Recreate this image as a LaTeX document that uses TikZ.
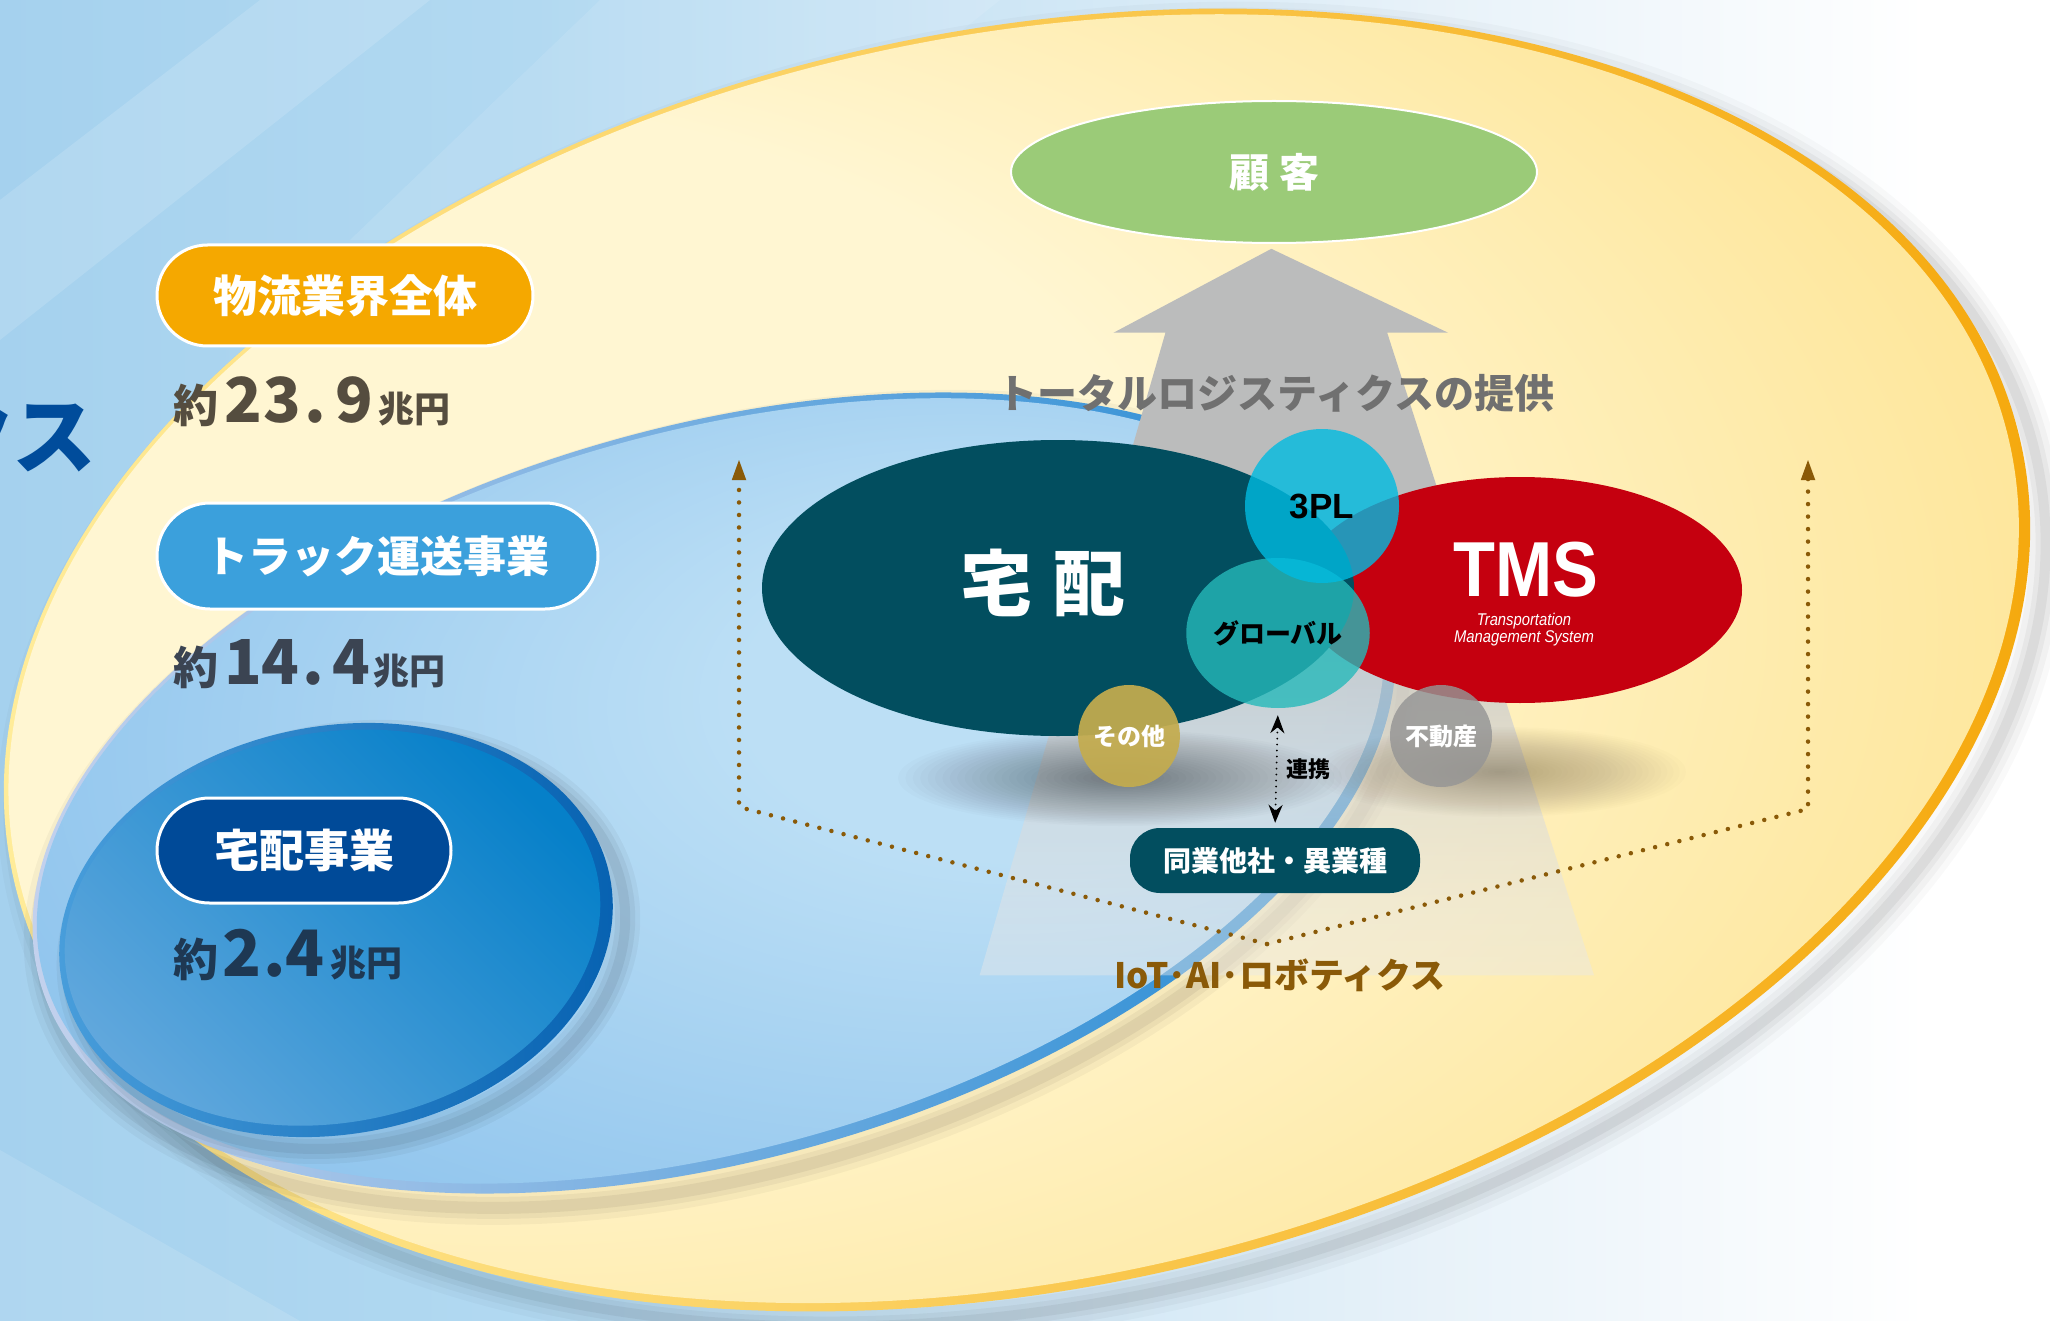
\documentclass[tikz,border=0pt]{standalone}
\usepackage{fontspec}
\setmainfont{Noto Sans CJK JP}
\newfontfamily\lat{Liberation Sans}
\usetikzlibrary{shapes.misc,shapes.geometric,arrows.meta,fadings}

\definecolor{bgA}{HTML}{8CC2E8}
\definecolor{bgB}{HTML}{B2D9F1}
\definecolor{bgC}{HTML}{E8F2F9}
\definecolor{yCream}{HTML}{FFF6D2}
\definecolor{yMid}{HTML}{FEE69A}
\definecolor{yDeep}{HTML}{FCD458}
\definecolor{yDeeper}{HTML}{FBCD48}
\definecolor{yRimL}{HTML}{FFEE9E}
\definecolor{yRimR}{HTML}{F5A70A}
\definecolor{bLight}{HTML}{BCDFF5}
\definecolor{bMid}{HTML}{94C7EE}
\definecolor{bDeep}{HTML}{6FB3E4}
\definecolor{bRimL}{HTML}{C9D4EE}
\definecolor{bRim}{HTML}{1A86D2}
\definecolor{dLight}{HTML}{62A8DD}
\definecolor{dDark}{HTML}{0680C9}
\definecolor{dRimL}{HTML}{4A9FDC}
\definecolor{dRim}{HTML}{0560B0}
\definecolor{pillOrange}{HTML}{F5A800}
\definecolor{pillBlue}{HTML}{3BA0DC}
\definecolor{pillNavy}{HTML}{004A98}
\definecolor{titleBlue}{HTML}{004C9B}
\definecolor{custGreen}{HTML}{9BCB78}
\definecolor{arrowGray}{HTML}{BBBCBC}
\definecolor{takTeal}{HTML}{024E5F}
\definecolor{tmsRed}{HTML}{C5000F}
\definecolor{plCyan}{RGB}{0,187,225}
\definecolor{glTeal}{RGB}{38,185,186}
\definecolor{otGold}{HTML}{C4AC4E}
\definecolor{reGray}{HTML}{959595}
\definecolor{iotBrown}{HTML}{8A5A08}
\definecolor{textGray}{HTML}{707070}
\definecolor{amtA}{HTML}{554D3F}
\definecolor{amtB}{HTML}{3B4452}
\definecolor{amtC}{HTML}{1E3853}
\definecolor{shadeBrown}{HTML}{5A4A30}

\pgfdeclarehorizontalshading{bgshade}{100bp}{color(0bp)=(bgA); color(38bp)=(bgB); color(60bp)=(bgC); color(72bp)=(white); color(100bp)=(white)}
\pgfdeclareradialshading{yfill}{\pgfpoint{-22bp}{8bp}}{color(0bp)=(yCream); color(18bp)=(yCream); color(33bp)=(yMid); color(44bp)=(yDeep); color(52bp)=(yDeeper)}
\pgfdeclareradialshading{bfill}{\pgfpoint{14bp}{10bp}}{color(0bp)=(bLight); color(10bp)=(bLight); color(30bp)=(bMid); color(50bp)=(bDeep)}
\pgfdeclareverticalshading{beamshade}{100bp}{color(0bp)=(white); color(30bp)=(arrowGray!40!white); color(55bp)=(arrowGray); color(100bp)=(arrowGray)}
\pgfdeclareverticalshading{beamfadeshade}{100bp}{color(0bp)=(pgftransparent!85); color(35bp)=(pgftransparent!45); color(55bp)=(pgftransparent!0); color(100bp)=(pgftransparent!0)}
\pgfdeclarefading{beamfade}{\pgfuseshading{beamfadeshade}}

\tikzset{
  pillbox/.style={rounded rectangle, draw=white, line width=3pt, text=white, inner sep=0pt},
  amt/.style={anchor=base west, inner sep=0pt, font=\bfseries},
  blob/.style={ellipse, inner sep=0pt},
  iotdot/.style={iotBrown, line width=4.5pt, line cap=round, dash pattern=on 0pt off 12.5pt},
  linkdot/.style={black, line width=2pt, line cap=round, dash pattern=on 0pt off 6pt},
}

\begin{document}
\begin{tikzpicture}[x=1pt,y=-1pt]
\path[use as bounding box] (0,0) rectangle (2050,1321);
\clip (0,0) rectangle (2050,1321);
% background
\shade[shading=bgshade] (0,0) rectangle (2050,1321);
\fill[white, opacity=.14] (260,0) -- (430,0) -- (0,340) -- (0,200) -- cycle;
\fill[white, opacity=.10] (600,0) -- (1000,0) -- (700,240) -- (350,240) -- cycle;
\fill[white, opacity=.12] (0,1150) -- (300,1321) -- (0,1321) -- cycle;

% outer yellow ellipse
\begin{scope}[shift={(1017,660)}, rotate=12]
  \foreach \w/\o in {44/.025, 32/.03, 20/.04, 10/.05}
    {\draw[black, opacity=\o, line width=\w pt] (12,18) ellipse [x radius=1027, y radius=629];}
  \shade[left color=yRimL, right color=yRimR] (0,0) ellipse [x radius=1027, y radius=629];
  \shade[shading=yfill] (-3,-2) ellipse [x radius=1019, y radius=622];
\end{scope}

% blue middle ellipse
\begin{scope}[shift={(714,793)}, rotate=15.6]
  \foreach \w/\o in {34/.035, 22/.045, 12/.055}
    {\draw[black, opacity=\o, line width=\w pt] (4,16) ellipse [x radius=700, y radius=367];}
  \shade[left color=bRimL, right color=bRim] (0,0) ellipse [x radius=700, y radius=367];
  \shade[shading=bfill] (-3,-3) ellipse [x radius=692, y radius=359];
\end{scope}

% dark blue circle
\begin{scope}[shift={(336,930)}, rotate=10.7]
  \foreach \w/\o in {30/.04, 20/.05, 10/.06}
    {\draw[black, opacity=\o, line width=\w pt] (10,14) ellipse [x radius=279, y radius=204];}
  \shade[left color=dRimL, right color=dRim] (0,0) ellipse [x radius=279, y radius=204];
  \shade[top color=dDark, bottom color=dLight, shading angle=-45] (-3,-3) ellipse [x radius=270, y radius=195];
\end{scope}

% title fragment
\node[anchor=base east, text=titleBlue, inner sep=0pt, font=\bfseries\fontsize{84}{84}\selectfont] (ttl) at (97,467) {クス};

% pills and amounts
\node[pillbox, fill=pillOrange, minimum width=376pt, minimum height=101pt, font=\bfseries\fontsize{44}{44}\selectfont] (p1) at (345,295.5) {物流業界全体};
\node[amt, text=amtA] (v1) at (173,422) {\fontsize{45}{45}\selectfont 約\hspace{6pt}\fontsize{62}{62}\selectfont 2\hspace{2pt}3\hspace{3pt}.\hspace{9pt}9\hspace{5pt}\fontsize{36}{36}\selectfont 兆円};

\node[pillbox, fill=pillBlue, minimum width=441pt, minimum height=106pt, font=\bfseries\fontsize{43}{43}\selectfont] (p2) at (377.5,556) {トラック運送事業};
\node[amt, text=amtB] (v2) at (173,684) {\fontsize{45}{45}\selectfont 約\hspace{6pt}\fontsize{62}{62}\selectfont 1\hspace{0pt}4\hspace{3pt}.\hspace{8pt}4\hspace{3pt}\fontsize{36}{36}\selectfont 兆円};

\node[pillbox, fill=pillNavy, minimum width=294pt, minimum height=105pt, font=\bfseries\fontsize{45}{45}\selectfont] (p3) at (304,850.5) {宅配事業};
\node[amt, text=amtC] (v3) at (173,976) {\fontsize{45}{45}\selectfont 約\hspace{4pt}\fontsize{64}{64}\selectfont 2\hspace{2pt}.\hspace{0pt}4\hspace{6pt}\fontsize{36}{36}\selectfont 兆円};

% gray beam arrow
\shade[shading=beamshade, path fading=beamfade] (1272,248) -- (1449,332) -- (1388,332) -- (1595,975) -- (980,975) -- (1166,332) -- (1114,332) -- cycle;

% customer
\node[blob, fill=custGreen, draw=white, line width=2pt, minimum width=526pt, minimum height=142pt, text=white, font=\bfseries\fontsize{40}{40}\selectfont] (cust) at (1274,172) {顧\hspace{10pt}客};
\node[text=textGray, inner sep=0pt, font=\bfseries\fontsize{40}{40}\selectfont] (total) at (1276,393) {トータルロジスティクスの提供};

% soft shadows under group (stacked translucent ellipses)
\foreach \k in {1,...,30}{
  \fill[black, opacity=.016] (1120,778) ellipse [x radius={7.4*\k}, y radius={1.6*\k}];
  \fill[shadeBrown, opacity=.014] (1500,772) ellipse [x radius={6.2*\k}, y radius={1.5*\k}];
}

% core group
\node[blob, fill=tmsRed, minimum width=444pt, minimum height=226pt] (tms) at (1520,590) {};
\node[blob, fill=takTeal, minimum width=592pt, minimum height=296pt] (tak) at (1058,588) {};
\node[text=white, inner sep=0pt, font=\bfseries\fontsize{72}{72}\selectfont] (takl) at (1043,583) {宅\hspace{22pt}配};
\node[text=white, inner sep=0pt, font=\lat\bfseries\fontsize{78}{78}\selectfont] (tmsl) at (1526,570) {\scalebox{0.88}[1]{TMS}};
\node[anchor=base, text=white, inner sep=0pt, font=\lat\itshape\fontsize{17}{17}\selectfont] (tmss1) at (1524,625) {\scalebox{0.87}[1]{Transportation}};
\node[anchor=base, text=white, inner sep=0pt, font=\lat\itshape\fontsize{17}{17}\selectfont] (tmss2) at (1524,642) {\scalebox{0.87}[1]{Management System}};

\node[blob, fill=glTeal, fill opacity=.8, text opacity=1, minimum width=158pt, minimum height=150pt, font=\bfseries\fontsize{26}{26}\selectfont] (glob) at (1278,633) {グローバル};
\node[blob, fill=plCyan, fill opacity=.8, text opacity=1, minimum width=154pt, minimum height=154pt, font=\lat\bfseries\fontsize{35}{35}\selectfont] (tpl) at (1322,506) {3PL};

\node[blob, fill=otGold, fill opacity=.93, text opacity=1, text=white, minimum width=100pt, minimum height=102pt, font=\bfseries\fontsize{24}{24}\selectfont] (other) at (1129,736) {その他};
\node[blob, fill=reGray, fill opacity=.82, text opacity=1, text=white, minimum width=102pt, minimum height=102pt, font=\bfseries\fontsize{24}{24}\selectfont] (estate) at (1441,736) {不動産};

% partners
\node[rectangle, rounded corners=30pt, fill=takTeal, minimum width=290pt, minimum height=65pt, inner sep=0pt, text=white, font=\bfseries\fontsize{28}{28}\selectfont] (peer) at (1275,860.5) {同業他社・異業種};
\draw[linkdot, {Stealth[length=18pt,width=14pt]}-{Stealth[length=18pt,width=14pt]}, shorten <=7pt, shorten >=5pt] (glob.south) -- (peer.north);
\node[anchor=west, inner sep=0pt, text=black, font=\bfseries\fontsize{22}{22}\selectfont] (link) at (1286,769) {連携};

% IoT lines
\node[anchor=base, inner sep=0pt, text=iotBrown, font=\bfseries\fontsize{35}{35}\selectfont] (iot) at (1280,988) {IoT･AI･ロボティクス};
\coordinate (iotV) at (1267,944);
\coordinate (cL) at (739,807);
\coordinate (tipL) at (739,459);
\coordinate (cR) at (1808,809);
\coordinate (tipR) at (1808,459);
\draw[iotdot, -{Triangle[length=21pt,width=13pt]}] (iotV) -- (cL) -- (tipL);
\draw[iotdot, -{Triangle[length=21pt,width=13pt]}] (iotV) -- (cR) -- (tipR);
\end{tikzpicture}
\end{document}
